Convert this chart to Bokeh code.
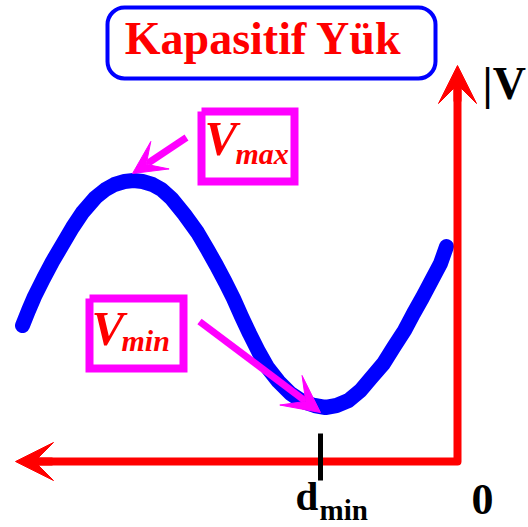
from bokeh.plotting import figure
from bokeh.models import Range1d, Arrow, VeeHead, BoxAnnotation
from bokeh.core.properties import value
from bokeh.embed import file_html
from bokeh.resources import INLINE

# Voltage magnitude |V| along the line; d is the distance from the load (d = 0 at the vertical axis)
dist = [435, 429, 423, 414, 405, 395, 385, 375, 362, 352, 343, 333, 324, 315, 305, 296, 286, 273, 260, 250,
        241, 232, 224, 216, 208, 199, 190, 179, 167, 155, 143, 132, 121, 109, 97, 86, 74, 64, 53, 44,
        35, 26, 17, 11]
vmag = [136, 151, 165, 183, 200, 217, 234, 249, 264, 272, 277, 280, 281, 280, 277, 272, 263, 247, 229, 212,
        196, 179, 163, 145, 128, 110, 94, 80, 68, 60, 56, 54, 56, 61, 71, 84, 98, 114, 131, 148,
        164, 181, 198, 215]

# location of the voltage minimum and of the maximum / minimum callouts
d_min = 137
v_max_point = (325, 288)
v_min_point = (137, 49)

SERIF = value("Liberation Serif")
RED = "#ff0000"
BLUE = "#0000ff"
MAGENTA = "#ff00ff"

p = figure(width=528, height=527, x_range=Range1d(457, -71), y_range=Range1d(-66, 461),
           output_backend="svg", toolbar_location=None, min_border=0,
           x_axis_location=None, y_axis_location=None,
           background_fill_color="white", border_fill_color="white")
p.grid.visible = False
p.outline_line_color = None


def label(x, y, txt, size, color, style="bold", align="left"):
    p.text(x=[x], y=[y], text=[txt], text_font=SERIF, text_font_style=style,
           text_font_size=f"{size}px", text_color=color, text_baseline="alphabetic",
           text_align=align)


# standing-wave curve
p.line(dist, vmag, line_width=15, line_color=BLUE, line_cap="round", line_join="round")

# d axis and |V| axis meeting at the load
p.line([428, 0, 0], [0, 0, 385], line_width=8, line_color=RED, line_join="round")
p.add_layout(Arrow(end=VeeHead(size=38, fill_color=RED, line_color=RED, line_width=1),
                   x_start=405, y_start=0, x_end=442, y_end=0, line_color=RED, line_width=8))
p.add_layout(Arrow(end=VeeHead(size=38, fill_color=RED, line_color=RED, line_width=1),
                   x_start=0, y_start=360, x_end=0, y_end=396, line_color=RED, line_width=8))

# d_min tick
p.segment(x0=[d_min], y0=[28], x1=[d_min], y1=[-19], line_width=5, line_color="black")

# axis labels
label(162, -34, "d", 41, "black")
label(138, -48, "min", 29, "black")
label(-14, -38, "0", 44, "black")
label(-25, 378, "|V", 46, "black")

# title in a rounded frame
label(194, 423, "Kapasitif Yük", 46, RED, align="center")
p.add_layout(BoxAnnotation(left=350, right=22, top=454, bottom=383, fill_alpha=0,
                           line_color=BLUE, line_alpha=1, line_width=4, border_radius=17))

# V_max callout
p.line([256, 163, 163, 256, 256], [350, 350, 280, 280, 350], line_width=8, line_color=MAGENTA,
       line_join="miter")
label(253, 323, "V", 49, RED, style="bold italic")
label(222, 308, "max", 30, RED, style="bold italic")
p.add_layout(Arrow(end=VeeHead(size=33, fill_color=MAGENTA, line_color=MAGENTA, line_width=1),
                   x_start=271, y_start=324, x_end=v_max_point[0], y_end=v_max_point[1],
                   line_color=MAGENTA, line_width=7))

# V_min callout
p.line([368, 274, 274, 368, 368], [163, 163, 93, 93, 163], line_width=8, line_color=MAGENTA,
       line_join="miter")
label(366, 133, "V", 49, RED, style="bold italic")
label(336, 121, "min", 30, RED, style="bold italic")
p.add_layout(Arrow(end=VeeHead(size=37, fill_color=MAGENTA, line_color=MAGENTA, line_width=1),
                   x_start=258, y_start=140, x_end=v_min_point[0], y_end=v_min_point[1],
                   line_color=MAGENTA, line_width=7))

open("out.html", "w").write(file_html(p, INLINE))
